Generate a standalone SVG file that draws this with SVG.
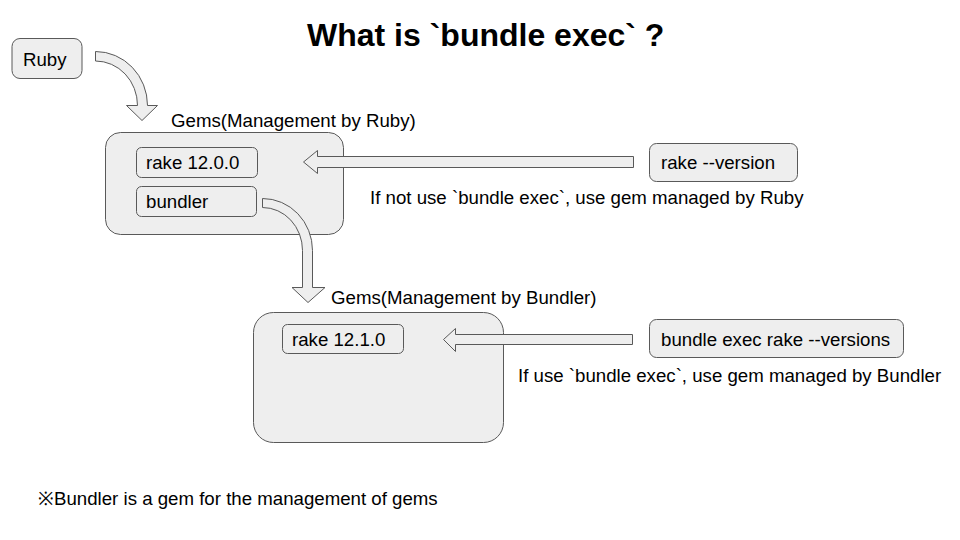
<svg xmlns="http://www.w3.org/2000/svg" width="960" height="540" viewBox="0 0 960 540">
<style>
.box{fill:#eeeeee;stroke:#595959;stroke-width:1}
.arr{fill:#eeeeee;stroke:#595959;stroke-width:1;stroke-linejoin:miter}
text{font-family:"Liberation Sans",Arial,sans-serif;font-size:18.67px;fill:#000}
.title{font-size:32px;font-weight:bold}
</style>
<rect width="960" height="540" fill="#ffffff"/>
<text class="title" x="307" y="46">What is `bundle exec` ?</text>
<g id="ruby">
<rect class="box" x="12" y="38.5" width="70" height="40" rx="8"/>
<text x="23" y="65.5">Ruby</text>
</g>
<g id="gems-ruby">
<rect class="box" x="105.5" y="132.5" width="238" height="102" rx="15"/>
<text x="171" y="127">Gems(Management by Ruby)</text>
</g>
<g id="rake-12-0-0">
<rect class="box" x="136.5" y="147.5" width="121" height="30" rx="5"/>
<text x="146" y="169">rake 12.0.0</text>
</g>
<g id="bundler">
<rect class="box" x="136.5" y="186.5" width="120" height="30" rx="5"/>
<text x="146" y="208">bundler</text>
</g>
<g id="gems-bundler">
<rect class="box" x="253.5" y="312.5" width="250" height="130" rx="20"/>
<text x="331" y="304">Gems(Management by Bundler)</text>
</g>
<g id="rake-12-1-0">
<rect class="box" x="282.5" y="324.5" width="121" height="29" rx="5"/>
<text x="292" y="346">rake 12.1.0</text>
</g>
<g id="rake-version">
<rect class="box" x="649.5" y="143.5" width="148" height="38" rx="7"/>
<text x="661" y="169">rake --version</text>
</g>
<g id="bundle-exec-rake">
<rect class="box" x="649.5" y="319.5" width="254" height="38" rx="7"/>
<text x="661" y="346">bundle exec rake --versions</text>
</g>
<g id="connectors">
<path class="arr" d="M95.5,51.5 A52,54 0 0 1 147.5,105.5 L157.5,105.5 L142,120.5 L126.5,105.5 L137.5,105.5 A42,44.5 0 0 0 95.5,61 Z"/>
<path class="arr" d="M262.5,198.5 A50,52 0 0 1 312.5,250.5 L312.5,287.5 L325,287.5 L308,302.5 L292,287.5 L302.5,287.5 L302.5,250.5 A40,43 0 0 0 262.5,207.5 Z"/>
<path class="arr" d="M303.5,162 L317.5,150.5 L317.5,156.5 L633.5,156.5 L633.5,167.5 L317.5,167.5 L317.5,173.5 Z"/>
<path class="arr" d="M443.5,339.5 L455.5,328.5 L455.5,334.5 L632.5,334.5 L632.5,344.5 L455.5,344.5 L455.5,351.5 Z"/>
</g>
<text x="370" y="204">If not use `bundle exec`, use gem managed by Ruby</text>
<text x="518" y="382">If use `bundle exec`, use gem managed by Bundler</text>
<text x="38" y="505">※Bundler is a gem for the management of gems</text>
</svg>
